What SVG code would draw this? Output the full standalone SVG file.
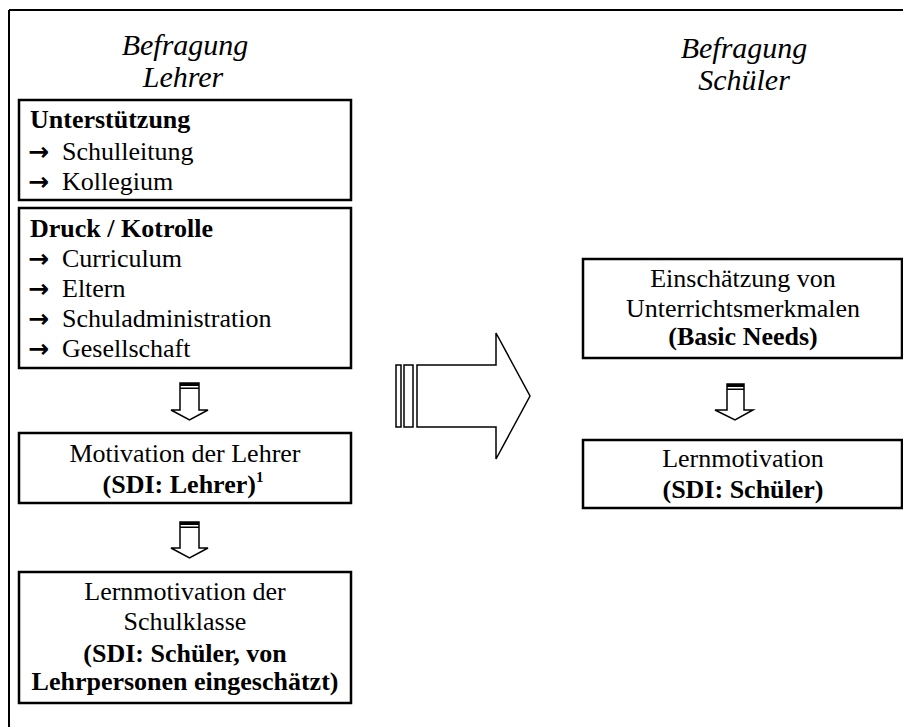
<svg xmlns="http://www.w3.org/2000/svg" width="903" height="727" viewBox="0 0 903 727">
<style>
text{font-family:"Liberation Serif","Times New Roman",serif;fill:#000}
.h{font-size:30px;font-style:italic;text-anchor:middle}
.t{font-size:26px}
.c{text-anchor:middle}
.b{font-weight:bold}
.ar{font-family:"DejaVu Sans",sans-serif;font-weight:bold;font-size:25px}
.box{fill:#fff;stroke:#000;stroke-width:2.5}
.arr{fill:#fff;stroke:#000;stroke-width:1.5}
</style>
<rect width="903" height="727" fill="#fff"/>
<path d="M9,10 H903 M9,10 V727" stroke="#000" stroke-width="2" fill="none"/>
<text class="h" x="185" y="55">Befragung</text>
<text class="h" x="183" y="87">Lehrer</text>
<text class="h" x="744" y="58">Befragung</text>
<text class="h" x="744" y="90">Schüler</text>
<g id="unterstuetzung">
<rect class="box" x="19" y="100" width="332" height="100"/>
<text class="t b" x="30" y="128">Unterstützung</text>
<text class="t" y="160"><tspan class="ar" x="28">→</tspan><tspan x="62">Schulleitung</tspan></text>
<text class="t" y="190"><tspan class="ar" x="28">→</tspan><tspan x="62">Kollegium</tspan></text>
</g>
<g id="druck">
<rect class="box" x="19" y="208" width="332" height="160"/>
<text class="t b" x="30" y="237">Druck / Kotrolle</text>
<text class="t" y="267"><tspan class="ar" x="28">→</tspan><tspan x="62">Curriculum</tspan></text>
<text class="t" y="297"><tspan class="ar" x="28">→</tspan><tspan x="62">Eltern</tspan></text>
<text class="t" y="327"><tspan class="ar" x="28">→</tspan><tspan x="62">Schuladministration</tspan></text>
<text class="t" y="357"><tspan class="ar" x="28">→</tspan><tspan x="62">Gesellschaft</tspan></text>
</g>
<g id="motivation-lehrer">
<rect class="box" x="19" y="433" width="332" height="70"/>
<text class="t c" x="185" y="462">Motivation der Lehrer</text>
<text class="t c b" x="183" y="493">(SDI: Lehrer)<tspan font-size="15" dy="-11">1</tspan></text>
</g>
<g id="lernmotivation-klasse">
<rect class="box" x="19" y="572" width="332" height="131"/>
<text class="t c" x="185" y="600">Lernmotivation der</text>
<text class="t c" x="185" y="630">Schulklasse</text>
<text class="t c b" x="185" y="662">(SDI: Schüler, von</text>
<text class="t c b" x="185" y="690">Lehrpersonen eingeschätzt)</text>
</g>
<g id="einschaetzung">
<rect class="box" x="583" y="259" width="319" height="99"/>
<text class="t c" x="743" y="287">Einschätzung von</text>
<text class="t c" x="743" y="317">Unterrichtsmerkmalen</text>
<text class="t c b" x="743" y="345">(Basic Needs)</text>
</g>
<g id="lernmotivation-schueler">
<rect class="box" x="583" y="440" width="319" height="68"/>
<text class="t c" x="743" y="467">Lernmotivation</text>
<text class="t c b" x="743" y="498">(SDI: Schüler)</text>
</g>
<g id="connectors">
<g id="a1">
<path class="arr" d="M180,383 H199 V410 H208 L189.5,420 L171,410 H180 Z"/>
<rect x="180" y="383" width="19" height="3" fill="#000"/>
<rect x="180" y="387.5" width="19" height="1.5" fill="#000"/>
</g>
<g id="a2">
<path class="arr" d="M180,522 H199 V548 H208 L189.5,558 L171,548 H180 Z"/>
<rect x="180" y="522" width="19" height="3" fill="#000"/>
<rect x="180" y="526.5" width="19" height="1.5" fill="#000"/>
</g>
<g id="a3">
<path class="arr" d="M727,384 H744 V410 H753 L735,420 L715,410 H727 Z"/>
<rect x="727" y="384" width="17" height="3" fill="#000"/>
<rect x="727" y="388.5" width="17" height="1.5" fill="#000"/>
</g>
<g id="big">
<rect class="arr" x="396" y="365" width="5" height="62"/>
<rect class="arr" x="404" y="365" width="9" height="62"/>
<path class="arr" d="M417,365 H496 V333 L530,396 L496,459 V427 H417 Z"/>
</g>
</g>
</svg>
